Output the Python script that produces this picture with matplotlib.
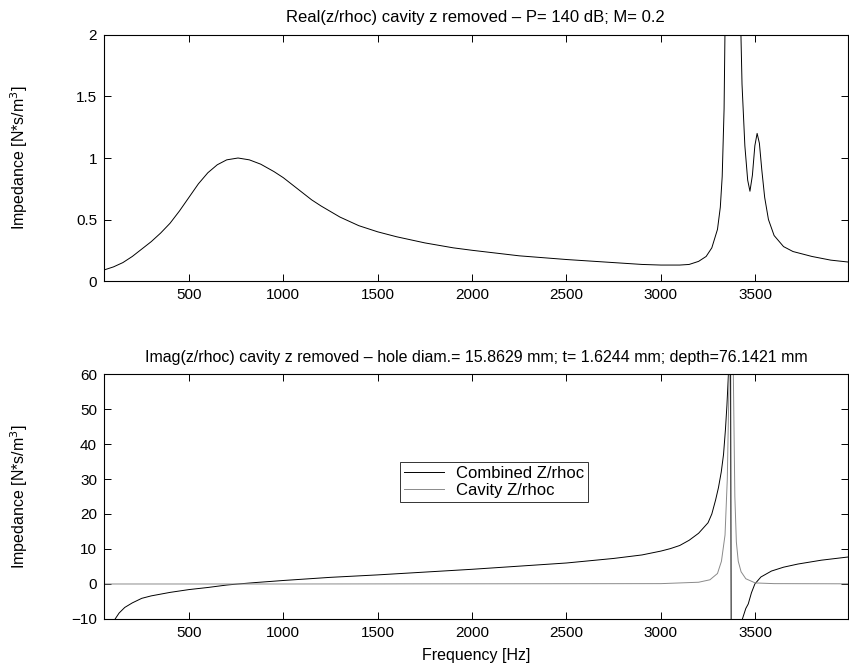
import matplotlib
matplotlib.use("Agg")
import matplotlib.pyplot as plt

plt.rcParams['font.family'] = ['Liberation Sans', 'DejaVu Sans']
plt.rcParams['axes.unicode_minus'] = True

# Real part of the normalised impedance (cavity z removed)
freq_real = [50, 100, 150, 200, 250, 300, 350, 400, 450, 500, 550, 600, 650, 700,
             760, 820, 880, 950, 1000, 1050, 1100, 1150, 1200, 1300, 1400, 1500,
             1600, 1750, 1900, 2000, 2250, 2500, 2750, 2900, 3000, 3100, 3150,
             3200, 3240, 3270, 3300, 3315, 3325, 3335, 3341, 3360, 3400, 3420,
             3430, 3445, 3460, 3472, 3485, 3498, 3510, 3522, 3535, 3550, 3570,
             3600, 3650, 3700, 3800, 3900, 3990]
real_z = [0.09, 0.115, 0.15, 0.20, 0.26, 0.32, 0.39, 0.47, 0.57, 0.68, 0.79, 0.88,
          0.945, 0.985, 1.00, 0.985, 0.95, 0.89, 0.84, 0.78, 0.72, 0.66, 0.61, 0.52,
          0.45, 0.40, 0.36, 0.31, 0.27, 0.25, 0.205, 0.175, 0.15, 0.135, 0.13,
          0.13, 0.135, 0.16, 0.20, 0.27, 0.42, 0.60, 0.85, 1.4, 2.2, 5.0, 5.0,
          2.3, 1.6, 1.1, 0.82, 0.73, 0.86, 1.10, 1.20, 1.12, 0.90, 0.68, 0.50,
          0.37, 0.28, 0.24, 0.20, 0.17, 0.155]

# Imaginary part: combined liner
freq_comb = [50, 80, 109, 130, 160, 200, 250, 300, 400, 500, 600, 700, 760, 850,
             1000, 1250, 1500, 1750, 2000, 2250, 2500, 2750, 2900, 3000, 3050,
             3100, 3150, 3200, 3225, 3250, 3270, 3290, 3305, 3320, 3332, 3342,
             3350, 3358, 3368, 3376, 3420, 3432, 3450, 3463, 3480, 3498, 3530,
             3586, 3650, 3726, 3850, 3990]
imag_comb = [-40, -17, -10, -8.3, -6.7, -5.4, -4.1, -3.4, -2.4, -1.6, -1.0, -0.3,
             0.0, 0.4, 1.0, 1.9, 2.6, 3.4, 4.2, 5.1, 6.0, 7.3, 8.3, 9.4, 10.1,
             11.0, 12.5, 14.5, 16.0, 17.5, 20.0, 24, 27.5, 32, 37, 44, 51, 60,
             100, -100, -14, -10, -7.0, -5.7, -2.5, 0.0, 2.0, 3.7, 4.8, 5.7, 6.8,
             7.7]

# Imaginary part: cavity alone
freq_cav = [50, 1000, 2000, 3000, 3200, 3260, 3300, 3321, 3340, 3352, 3362, 3370,
            3378, 3384, 3392, 3400, 3410, 3425, 3450, 3500, 3600, 3990]
imag_cav = [0.0, 0.0, 0.05, 0.1, 0.5, 1.2, 3.0, 6.5, 14, 30, 60, 150, 150, 60,
            25, 12, 6.5, 3.5, 1.5, 0.3, 0.1, 0.05]

real_title = 'Real(z/rhoc) cavity z removed \u2013 P= 140 dB; M= 0.2'
imag_title = ('Imag(z/rhoc) cavity z removed \u2013 hole diam.= 15.8629 mm; '
              't= 1.6244 mm; depth=76.1421 mm')
ylabel = 'Impedance [N*s/m$^3$]'
xticks = [500, 1000, 1500, 2000, 2500, 3000, 3500]
real_yticks = [0, 0.5, 1, 1.5, 2]
real_yticklabels = ['0', '0.5', '1', '1.5', '2']
imag_yticks = [-10, 0, 10, 20, 30, 40, 50, 60]

fig = plt.figure(figsize=(8.49, 6.66), dpi=100)
ax1 = fig.add_axes([0.1225, 0.578, 0.876, 0.3695])
ax2 = fig.add_axes([0.1225, 0.0706, 0.876, 0.3678])

for ax in (ax1, ax2):
    ax.set_xlim(50, 3990)
    ax.set_xticks(xticks)
    ax.tick_params(direction='in', top=True, right=True, length=5,
                   width=0.7, labelsize=11, pad=5)
    for s in ax.spines.values():
        s.set_linewidth(0.8)
    ax.set_ylabel(ylabel, fontsize=11.5)
    ax.yaxis.set_label_coords(-0.1, 0.5)

ax1.plot(freq_real, real_z, color='black', lw=0.7)
ax1.set_ylim(0, 2)
ax1.set_yticks(real_yticks)
ax1.set_yticklabels(real_yticklabels)
ax1.set_title(real_title, fontsize=12, pad=9)

ax2.plot(freq_comb, imag_comb, color='black', lw=0.7, label='Combined Z/rhoc')
ax2.plot(freq_cav, imag_cav, color='#8a8a8a', lw=0.7, label='Cavity Z/rhoc')
ax2.set_ylim(-10, 60)
ax2.set_yticks(imag_yticks)
ax2.set_title(imag_title, fontsize=11.5, pad=9)
ax2.set_xlabel('Frequency [Hz]', fontsize=11.5, labelpad=6)

leg = ax2.legend(loc='lower left', bbox_to_anchor=(0.398, 0.478), fontsize=12,
                 frameon=True, fancybox=False, borderpad=0.25,
                 handlelength=2.4, handletextpad=0.7, labelspacing=0.1,
                 borderaxespad=0)
leg.get_frame().set_edgecolor('black')
leg.get_frame().set_linewidth(0.7)

fig.savefig('out.png', dpi=100)
